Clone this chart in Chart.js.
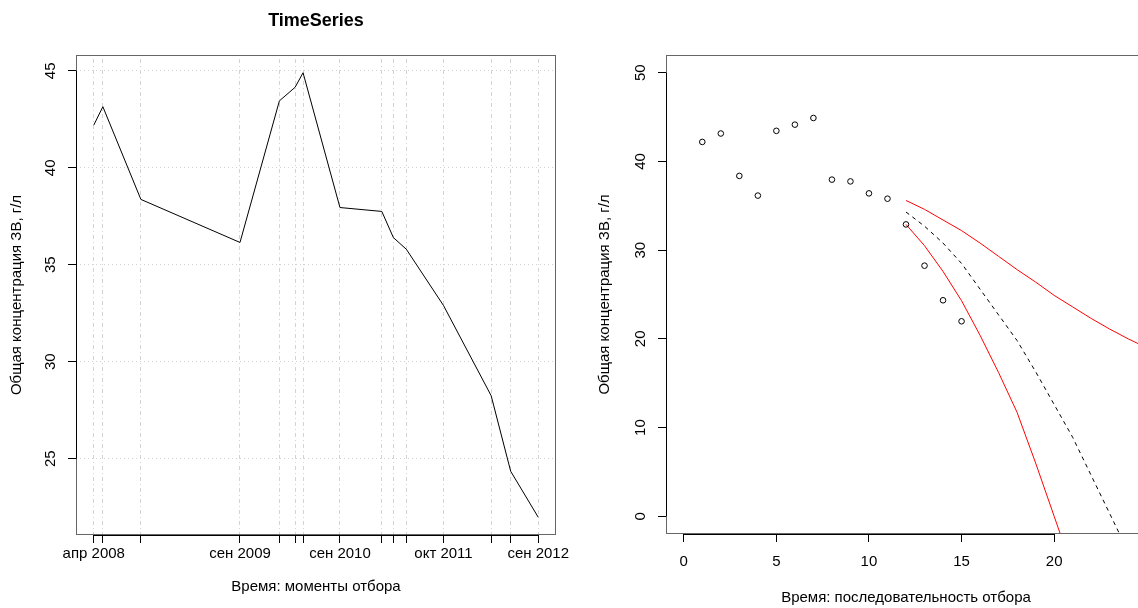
<!DOCTYPE html>
<html lang="ru">
<head>
<meta charset="utf-8">
<title>TimeSeries</title>
<script src="https://cdn.jsdelivr.net/npm/chart.js@4"></script>
<style>
  html, body { margin: 0; padding: 0; background: #fff; overflow: hidden; }
  #wrap { position: relative; width: 1138px; height: 608px; overflow: hidden; }
  #left { position: absolute; left: 0; top: 0; }
  #right { position: absolute; left: 576px; top: 0; }
</style>
</head>
<body>
<div id="wrap">
  <canvas id="left" width="576" height="608"></canvas>
  <canvas id="right" width="576" height="608"></canvas>
</div>
<script>
// --- левая панель: моменты отбора ---
const sampleDates = ['2008-04-15', '2008-05-18', '2008-10-03', '2009-09-28', '2010-02-18',
                     '2010-04-16', '2010-05-15', '2010-09-26', '2011-02-25', '2011-04-08',
                     '2011-05-25', '2011-10-07', '2012-03-28', '2012-06-07', '2012-09-15'];
const concentration = [42.2, 43.15, 38.37, 36.15, 43.45, 44.15, 44.9, 37.95,
                       37.75, 36.4, 35.8, 32.9, 28.25, 24.35, 21.98];
const dateTickLabels = ['апр 2008', '', '', 'сен 2009', '', '', '', 'сен 2010',
                        '', '', '', 'окт 2011', '', '', 'сен 2012'];
const concTicks = [25, 30, 35, 40, 45];

// --- правая панель: последовательность отбора и прогноз ---
const sampleOrder = [1, 2, 3, 4, 5, 6, 7, 8, 9, 10, 11, 12, 13, 14, 15];
const forecastX = [12, 13, 14, 15, 16, 17, 18, 19, 20, 21, 22, 23, 24, 25];
const forecastMid = [34.3, 32.7, 30.8, 28.5, 25.6, 22.7, 19.8, 16.3, 12.6, 8.9, 4.6, 0.3, -4.0];
const forecastUpper = [35.6, 34.6, 33.4, 32.2, 30.8, 29.3, 27.8, 26.4, 24.9, 23.6, 22.3, 21.1, 20.0, 19.0];
const forecastLower = [32.9, 30.5, 27.6, 24.3, 20.4, 16.2, 11.7, 6.0, 0.0, -6.0];
const orderTicks = [0, 5, 10, 15, 20];
const concTicksRight = [0, 10, 20, 30, 40, 50];
const orderLimits = [0, 24];
const concLimitsRight = [0, 50];

Chart.defaults.font.family = '"Liberation Sans", Arial, Helvetica, sans-serif';
Chart.defaults.font.size = 15;
Chart.defaults.color = '#000';

const yLabel = 'Общая концентрация ЗВ, г/л';

// как в R: диапазон оси шире данных на 4% с каждой стороны
function rRange(lo, hi) {
    const d = (hi - lo) * 0.04;
    return [lo - d, hi + d];
}

const toTime = s => {
    const [y, m, d] = s.split('-').map(Number);
    return Date.UTC(y, m - 1, d);
};
const times = sampleDates.map(toTime);

const asPoints = (xs, ys) => ys.map((v, i) => ({ x: xs[i], y: v }));

// рамка графика и линии осей от первой до последней метки
const rFrame = {
    id: 'rFrame',
    afterDraw(chart) {
        const { ctx, chartArea: a, scales: { x, y } } = chart;
        ctx.save();
        ctx.lineWidth = 1;
        ctx.strokeStyle = '#666';
        ctx.strokeRect(a.left + 0.5, a.top + 0.5, a.width - 1, a.height - 1);
        ctx.strokeStyle = '#000';
        ctx.beginPath();
        const xt = x.ticks, yt = y.ticks;
        ctx.moveTo(x.getPixelForValue(xt[0].value), a.bottom + 0.5);
        ctx.lineTo(x.getPixelForValue(xt[xt.length - 1].value), a.bottom + 0.5);
        ctx.moveTo(a.left + 0.5, y.getPixelForValue(yt[0].value));
        ctx.lineTo(a.left + 0.5, y.getPixelForValue(yt[yt.length - 1].value));
        ctx.stroke();
        ctx.restore();
    }
};

const [tMin, tMax] = rRange(times[0], times[times.length - 1]);
const [cMin, cMax] = rRange(Math.min(...concentration), Math.max(...concentration));

new Chart(document.getElementById('left'), {
    type: 'line',
    data: {
        datasets: [{
            data: asPoints(times, concentration),
            borderColor: '#000',
            borderWidth: 1,
            pointRadius: 0,
            fill: false
        }]
    },
    options: {
        responsive: false,
        animation: false,
        layout: { padding: { left: 0, right: 20, top: 0, bottom: 0 } },
        plugins: {
            legend: { display: false },
            tooltip: { enabled: false },
            title: {
                display: true,
                fullSize: false,
                text: 'TimeSeries',
                font: { size: 18, weight: 'bold' },
                padding: { top: 10, bottom: 23.4 }
            }
        },
        scales: {
            x: {
                type: 'linear',
                min: tMin, max: tMax,
                afterBuildTicks: s => { s.ticks = times.map(v => ({ value: v })); },
                afterFit: s => { s.height = 73; },
                ticks: {
                    autoSkip: false, maxRotation: 0, minRotation: 0, padding: 2,
                    callback: (v, i) => dateTickLabels[i]
                },
                grid: { color: '#d3d3d3', tickColor: '#000', tickLength: 8 },
                border: { display: false, dash: [1, 3, 4, 3] },
                title: { display: true, text: 'Время: моменты отбора', padding: { top: 0, bottom: 12 } }
            },
            y: {
                min: cMin, max: cMax,
                afterBuildTicks: s => { s.ticks = concTicks.map(v => ({ value: v })); },
                afterFit: s => { s.width = 76; },
                ticks: { minRotation: 90, maxRotation: 90, crossAlign: 'center', padding: 9 },
                grid: { color: '#d3d3d3', tickColor: '#000', tickLength: 8 },
                border: { display: false, dash: [1, 3] },
                title: { display: true, text: yLabel, padding: { top: 8, bottom: 0 } }
            }
        }
    },
    plugins: [rFrame]
});

const [oMin, oMax] = rRange(orderLimits[0], orderLimits[1]);
const [rMin, rMax] = rRange(concLimitsRight[0], concLimitsRight[1]);

new Chart(document.getElementById('right'), {
    type: 'line',
    data: {
        datasets: [{
            data: asPoints(sampleOrder, concentration),
            showLine: false,
            pointRadius: 2.8,
            pointBorderWidth: 1,
            pointBorderColor: '#000',
            pointBackgroundColor: 'rgba(0,0,0,0)'
        }, {
            data: asPoints(forecastX, forecastMid),
            borderColor: '#000', borderWidth: 1, borderDash: [4, 4], pointRadius: 0
        }, {
            data: asPoints(forecastX, forecastUpper),
            borderColor: '#ff0000', borderWidth: 1, pointRadius: 0
        }, {
            data: asPoints(forecastX, forecastLower),
            borderColor: '#ff0000', borderWidth: 1, pointRadius: 0
        }]
    },
    options: {
        responsive: false,
        animation: false,
        layout: { padding: { left: 0, right: 6, top: 55, bottom: 0 } },
        plugins: { legend: { display: false }, tooltip: { enabled: false } },
        scales: {
            x: {
                type: 'linear',
                min: oMin, max: oMax,
                afterBuildTicks: s => { s.ticks = orderTicks.map(v => ({ value: v })); },
                afterFit: s => { s.height = 74; },
                ticks: { autoSkip: false, maxRotation: 0, minRotation: 0, padding: 11 },
                grid: { drawOnChartArea: false, tickColor: '#000', tickLength: 8 },
                border: { display: false },
                title: { display: true, text: 'Время: последовательность отбора', padding: { top: 0, bottom: 1 } }
            },
            y: {
                min: rMin, max: rMax,
                afterBuildTicks: s => { s.ticks = concTicksRight.map(v => ({ value: v })); },
                afterFit: s => { s.width = 90; },
                ticks: { minRotation: 90, maxRotation: 90, crossAlign: 'center', padding: 9 },
                grid: { drawOnChartArea: false, tickColor: '#000', tickLength: 8 },
                border: { display: false },
                title: { display: true, text: yLabel, padding: { top: 20, bottom: 0 } }
            }
        }
    },
    plugins: [rFrame]
});
</script>
</body>
</html>
